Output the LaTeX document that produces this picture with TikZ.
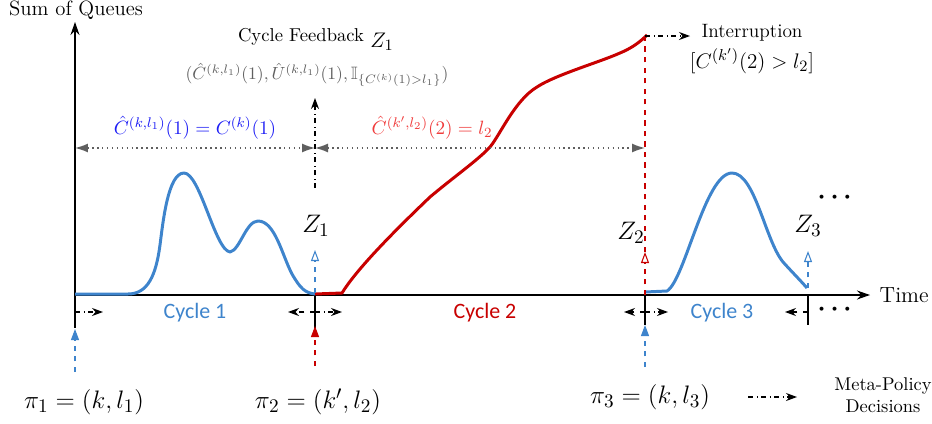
\documentclass[tikz,border=0pt]{standalone}
\usepackage{amsmath,amssymb}
\usepackage{fontspec}
\newfontfamily\cyclefont{Carlito}
\usetikzlibrary{arrows.meta,positioning}
\definecolor{cycblue}{RGB}{62,132,204}
\definecolor{cycred}{RGB}{200,0,0}
\definecolor{eqblue}{RGB}{30,30,245}
\definecolor{eqred}{RGB}{240,60,60}
\definecolor{fbgray}{RGB}{95,95,95}

\begin{document}
\begin{tikzpicture}[
  x=0.02cm, y=-0.02cm,
  axis/.style={-{Stealth[length=2.6mm,width=1.8mm]}, semithick},
  tickline/.style={semithick},
  bluecurve/.style={cycblue, line width=1.7pt, line join=round},
  redcurve/.style={cycred, line width=1.7pt, line join=round},
  meta/.style={-{Stealth[length=2.2mm,width=1.6mm]}, dash dot, semithick},
  bound/.style={-{Stealth[length=2.2mm,width=1.6mm]}, dashed, semithick},
  feedback/.style={{Latex[length=2.6mm,width=1.8mm]}-{Latex[length=2.6mm,width=1.8mm]}, dotted, thick, fbgray},
  zblue/.style={-{Triangle[open,length=2.2mm,width=1.6mm]}, dashed, semithick, cycblue},
  zred/.style={-{Triangle[open,length=2.2mm,width=1.6mm]}, dashed, semithick, cycred},
  piblue/.style={-{Triangle[length=2.2mm,width=1.6mm]}, dashed, semithick, cycblue},
  pired/.style={-{Triangle[length=2.2mm,width=1.6mm]}, dashed, semithick, cycred},
  cyclab/.style={font=\cyclefont\fontsize{12.5}{14}\selectfont},
  txtlab/.style={font=\fontsize{10.6}{12.5}\selectfont},
  mathlab/.style={font=\fontsize{15.5}{18}\selectfont},
  zlab/.style={font=\fontsize{15}{18}\selectfont},
  eqlab/.style={font=\fontsize{11.2}{13}\selectfont}
]
\useasboundingbox (0,0) rectangle (932,423);

% axes
\coordinate (O) at (75,295);
\coordinate (yTop) at (75,22);
\coordinate (xEnd) at (870,295);
\draw[axis] (O) -- (yTop);
\draw[axis] (O) -- (xEnd);
\node[font=\fontsize{11.8}{14}\selectfont] (ylab) at (76,10) {Sum of Queues};
\node[font=\fontsize{12.5}{14}\selectfont, right=2pt of xEnd] (xlab) {Time};

% cycle boundaries
\coordinate (b1) at (75,295);   \coordinate (b1d) at (75,328);
\coordinate (b2) at (315,295);  \coordinate (b2d) at (315,330);
\coordinate (b3) at (645,295);  \coordinate (b3d) at (645,325);
\coordinate (b4) at (808,295);  \coordinate (b4d) at (808,325);
\foreach \b in {1,2,3,4}
  \draw[tickline] (b\b) -- (b\b d);

% queue curves
\draw[bluecurve] (75,294) -- (128,294)
  .. controls (148,294) and (156,275) .. (160,245)
  .. controls (163,222) and (168,173) .. (184,173)
  .. controls (200,173) and (215,250) .. (230,252)
  .. controls (240,250) and (246,221) .. (258,221)
  .. controls (275,221) and (282,255) .. (292,274)
  .. controls (300,288) and (305,293) .. (315,294);
\draw[redcurve] (315,294) -- (342,293)
  .. controls (355,272) and (385,240) .. (430,197)
  .. controls (455,176) and (478,160) .. (490,147)
  .. controls (500,135) and (515,100) .. (537,87)
  .. controls (555,75) and (600,62) .. (620,53)
  .. controls (632,48) and (640,42) .. (647,35);
\draw[bluecurve] (645,292) -- (667,291)
  .. controls (685,280) and (705,173) .. (732,173)
  .. controls (755,173) and (765,240) .. (783,262)
  .. controls (792,272) and (800,280) .. (807,288);

% states at cycle ends
\coordinate (zOneBase) at (315,293);  \coordinate (zOneTip) at (315,250);
\coordinate (zTwoBase) at (645,295);  \coordinate (zTwoTip) at (645,252);
\coordinate (zThreeBase) at (808,288); \coordinate (zThreeTip) at (808,251);
\coordinate (peak) at (645,36);
\draw[zblue] (zOneBase) -- (zOneTip);
\draw[zred] (zTwoBase) -- (zTwoTip);
\draw[cycred, dashed, semithick] (zTwoTip) -- (peak);
\draw[zblue] (zThreeBase) -- (zThreeTip);
\node[zlab] (zOne) at (316,226) {$Z_1$};
\node[zlab] (zTwo) at (631,233) {$Z_2$};
\node[zlab] (zThree) at (808,226) {$Z_3$};

% feedback after cycle 1
\coordinate (fbBase) at (315,188);
\coordinate (fbTip) at (315,98);
\draw[meta] (fbBase) -- (fbTip);
\node[txtlab] (fbTitle) at (301,37) {Cycle Feedback};
\node[font=\fontsize{12.5}{15}\selectfont] (fbZ) at (382,42) {$Z_1$};
\node[fbgray, font=\fontsize{10.2}{12}\selectfont] (fbTuple) at (317,75)
  {$(\hat{C}^{(k,l_1)}(1), \hat{U}^{(k,l_1)}(1), \mathbb{I}_{\{C^{(k)}(1)>l_1\}})$};

% cycle lengths
\coordinate (lenA) at (75,148);
\coordinate (lenB) at (315,148);
\coordinate (lenC) at (645,148);
\draw[feedback] (lenA) -- (lenB);
\draw[feedback] (lenB) -- (lenC);
\node[eqblue, eqlab] (lenOne) at (195,128) {$\hat{C}^{(k,l_1)}(1) = C^{(k)}(1)$};
\node[eqred, eqlab] (lenTwo) at (432,128) {$\hat{C}^{(k',l_2)}(2) = l_2$};

% interruption
\coordinate (intTip) at (690,36);
\draw[meta] (peak) -- (intTip);
\node[font=\fontsize{11}{13}\selectfont] (intTitle) at (752,33) {Interruption};
\node[font=\fontsize{13}{15}\selectfont] (intCond) at (752,61) {$[C^{(k')}(2) > l_2]$};

% policy switches below the axis
\coordinate (s1r) at (103,312);
\coordinate (s2l) at (288,312); \coordinate (s2r) at (342,312);
\coordinate (s3l) at (624,312); \coordinate (s3r) at (668,312);
\coordinate (s4l) at (785,312);
\coordinate (s1) at (75,312); \coordinate (s2) at (315,312);
\coordinate (s3) at (645,312); \coordinate (s4) at (808,312);
\draw[meta] (s1) -- (s1r);
\draw[bound] (s2) -- (s2l);
\draw[meta] (s2) -- (s2r);
\draw[bound] (s3) -- (s3l);
\draw[meta] (s3) -- (s3r);
\draw[bound] (s4) -- (s4l);

\node[cyclab, cycblue] (cycOne) at (195,313) {Cycle 1};
\node[cyclab, cycred] (cycTwo) at (485,313) {Cycle 2};
\node[cyclab, cycblue] (cycThree) at (722,313) {Cycle 3};
\node[mathlab] (dotsUp) at (837,198) {$\boldsymbol{\cdots}$};
\node[mathlab] (dotsDown) at (837,310) {$\boldsymbol{\cdots}$};

% meta-policy decisions
\coordinate (p1) at (75,372);  \coordinate (p1t) at (75,329);
\coordinate (p2) at (315,366); \coordinate (p2t) at (315,326);
\coordinate (p3) at (645,367); \coordinate (p3t) at (645,325);
\draw[piblue] (p1) -- (p1t);
\draw[pired] (p2) -- (p2t);
\draw[piblue] (p3) -- (p3t);
\node[mathlab] (piOne) at (84,402) {$\pi_1 = (k, l_1)$};
\node[mathlab] (piTwo) at (318,402) {$\pi_2 = (k', l_2)$};
\node[mathlab] (piThree) at (650,397) {$\pi_3 = (k, l_3)$};

% legend
\coordinate (legA) at (748,397);
\coordinate (legB) at (797,397);
\draw[meta] (legA) -- (legB);
\node[font=\fontsize{10.5}{12.5}\selectfont, align=center] (legText) at (883,395) {Meta-Policy\\Decisions};
\end{tikzpicture}
\end{document}
